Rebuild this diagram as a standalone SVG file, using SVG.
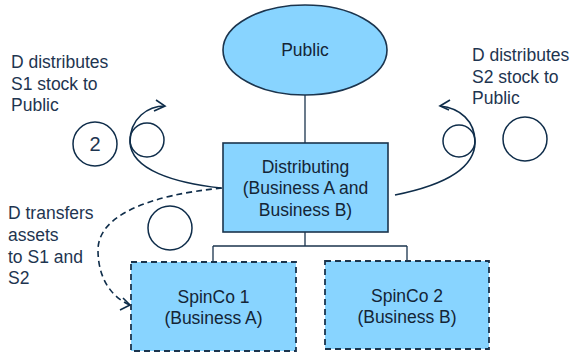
<svg xmlns="http://www.w3.org/2000/svg" width="572" height="354" viewBox="0 0 572 354">
<style>
.t{font-family:"Liberation Sans",Arial,sans-serif;font-size:17.5px;fill:#1E3550}
.n{font-family:"Liberation Sans",Arial,sans-serif;font-size:17.5px;fill:#142536;text-anchor:middle}
.box{fill:#88D4FF;stroke:#1B344D;stroke-width:1.6}
.dbox{fill:#88D4FF;stroke:#1B344D;stroke-width:1.8;stroke-dasharray:6,4}
.ln{fill:none;stroke:#1B344D;stroke-width:1.3}
.cv{fill:none;stroke:#0F2D4A;stroke-width:1.6}
.c{fill:none;stroke:#0F2D4A;stroke-width:1.5}
</style>
<rect width="572" height="354" fill="#fff"/>
<g id="connectors">
<path class="ln" d="M305,95 V143"/>
<path class="ln" d="M305,232 V246 M213,246 H407 M213,246 V262 M407,246 V261"/>
<path class="cv" d="M221,188 C175,183 131,170 130,142 C130,118 148,106 165,106"/>
<path class="cv" d="M156,100 L165,106 L154,111"/>
<path class="cv" d="M395,195 C440,186 475,170 475,142 C475,121 460,108 440,106"/>
<path class="cv" d="M450,100 L440,106 L449,110"/>
<path class="cv" stroke-dasharray="6,4" d="M222,188 C150,195 98,215 98,250 C98,280 113,298 130,305"/>
<path class="cv" d="M123,298 L130,305 L120,310"/>
</g>
<g id="public">
<ellipse cx="305" cy="50" rx="82" ry="45" class="box"/>
<text class="n" x="305" y="56">Public</text>
</g>
<g id="distributing">
<rect x="223" y="143" width="165" height="89" class="box"/>
<text class="n" x="305.5" y="173">Distributing</text>
<text class="n" x="305.5" y="194">(Business A and</text>
<text class="n" x="305.5" y="216">Business B)</text>
</g>
<g id="spinco1">
<rect x="131" y="262" width="165" height="89" class="dbox"/>
<text class="n" x="213.5" y="303">SpinCo 1</text>
<text class="n" x="213.5" y="324">(Business A)</text>
</g>
<g id="spinco2">
<rect x="325" y="261" width="164" height="88" class="dbox"/>
<text class="n" x="407" y="302">SpinCo 2</text>
<text class="n" x="407" y="323">(Business B)</text>
</g>
<g id="labels">
<text class="t" x="11" y="68">D distributes</text>
<text class="t" x="11" y="90">S1 stock to</text>
<text class="t" x="11" y="111">Public</text>
<text class="t" x="472" y="61">D distributes</text>
<text class="t" x="472" y="83">S2 stock to</text>
<text class="t" x="472" y="104">Public</text>
<text class="t" x="8" y="219">D transfers</text>
<text class="t" x="8" y="241">assets</text>
<text class="t" x="8" y="263">to S1 and</text>
<text class="t" x="8" y="284">S2</text>
</g>
<g id="markers">
<circle cx="95" cy="144" r="22" class="c"/>
<text class="t" x="95" y="151" text-anchor="middle" style="font-size:20px">2</text>
<circle cx="147" cy="140" r="17" class="c"/>
<circle cx="459" cy="141" r="16" class="c"/>
<circle cx="525" cy="139" r="22" class="c"/>
<circle cx="170" cy="228" r="22" class="c"/>
</g>
</svg>
